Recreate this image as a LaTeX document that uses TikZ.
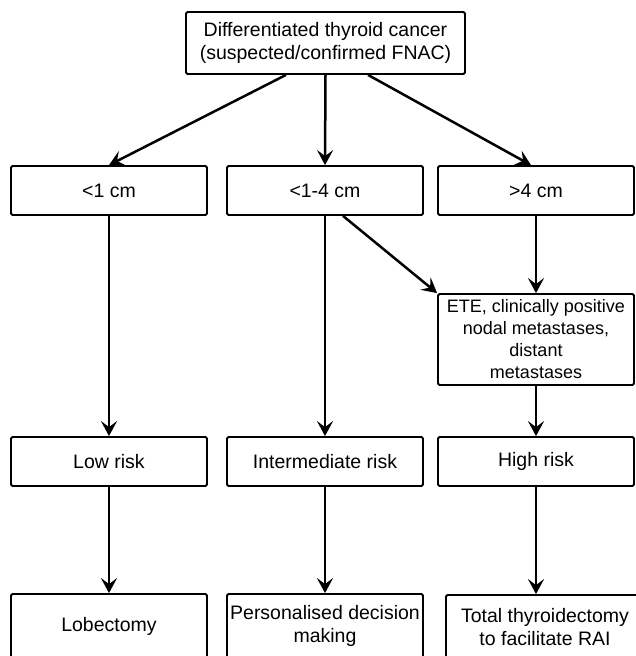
\documentclass[tikz,border=0pt]{standalone}
\usepackage{fontspec}
\setmainfont{Liberation Sans}
\usetikzlibrary{arrows.meta}
\tikzset{
  >={Stealth[length=15pt,width=16pt,inset=6pt]},
  stage/.style ={draw, line width=1.8pt, rounded corners=1.5pt, align=center, inner sep=0pt,
                 minimum width=196pt, minimum height=49pt, font=\fontsize{19.5}{23}\selectfont},
  flow/.style  ={line width=2.5pt, ->},
}

\begin{document}
\begin{tikzpicture}[x=1pt, y=-1pt]
  \useasboundingbox (0,0) rectangle (636,656);
  \clip (0,0) rectangle (636,656);

  % ---------- Top: diagnosis ----------
  \node[stage, minimum width=279pt, minimum height=62pt] (dtc) at (325.5,43)
    {Differentiated thyroid cancer\\(suspected/confirmed FNAC)};

  % ---------- Tumour size ----------
  \node[stage] (small) at (109,190.5) {<1 cm};
  \node[stage] (mid)   at (325,190.5) {<1-4 cm};
  \node[stage] (big)   at (536,190.5) {>4 cm};

  % extra features
  \node[stage, minimum height=91pt, font=\fontsize{18}{22}\selectfont] (ete) at (536,339.5)
    {ETE, clinically positive\\nodal metastases,\\distant\\metastases};

  % ---------- Risk groups ----------
  \node[stage] (low)   at (109,461.5) {Low risk};
  \node[stage] (inter) at (325,461.5) {Intermediate risk};
  \node[stage] (high)  at (536,461.5) {High risk};

  % ---------- Treatment (cut off at the bottom) ----------
  \node[stage, minimum height=64pt] (lob)   at (109,626) {Lobectomy};
  \node[stage, minimum height=64pt] (pers)  at (325,626) {Personalised decision\\making};
  \node[stage, minimum width=198pt, minimum height=64pt] (total) at (545,627)
    {Total thyroidectomy\\to facilitate RAI};

  % arrows from the top box
  \draw[flow] ([xshift=-39.5pt]dtc.south) -- (small.north);
  \draw[flow] (dtc.south) -- (mid.north);
  \draw[flow] ([xshift=42.5pt]dtc.south) -- ([xshift=-5pt]big.north);

  % size -> features / risk
  \draw[flow] ([xshift=18pt]mid.south) -- (ete.north west);
  \draw[flow] (big) -- (ete);
  \draw[flow] (small) -- (low);
  \draw[flow] (mid) -- (inter);
  \draw[flow] (ete) -- (high);

  % risk -> treatment
  \draw[flow] (low) -- (lob);
  \draw[flow] (inter) -- (pers);
  \draw[flow] (high.south) -- (high.south |- total.north);
\end{tikzpicture}
\end{document}
